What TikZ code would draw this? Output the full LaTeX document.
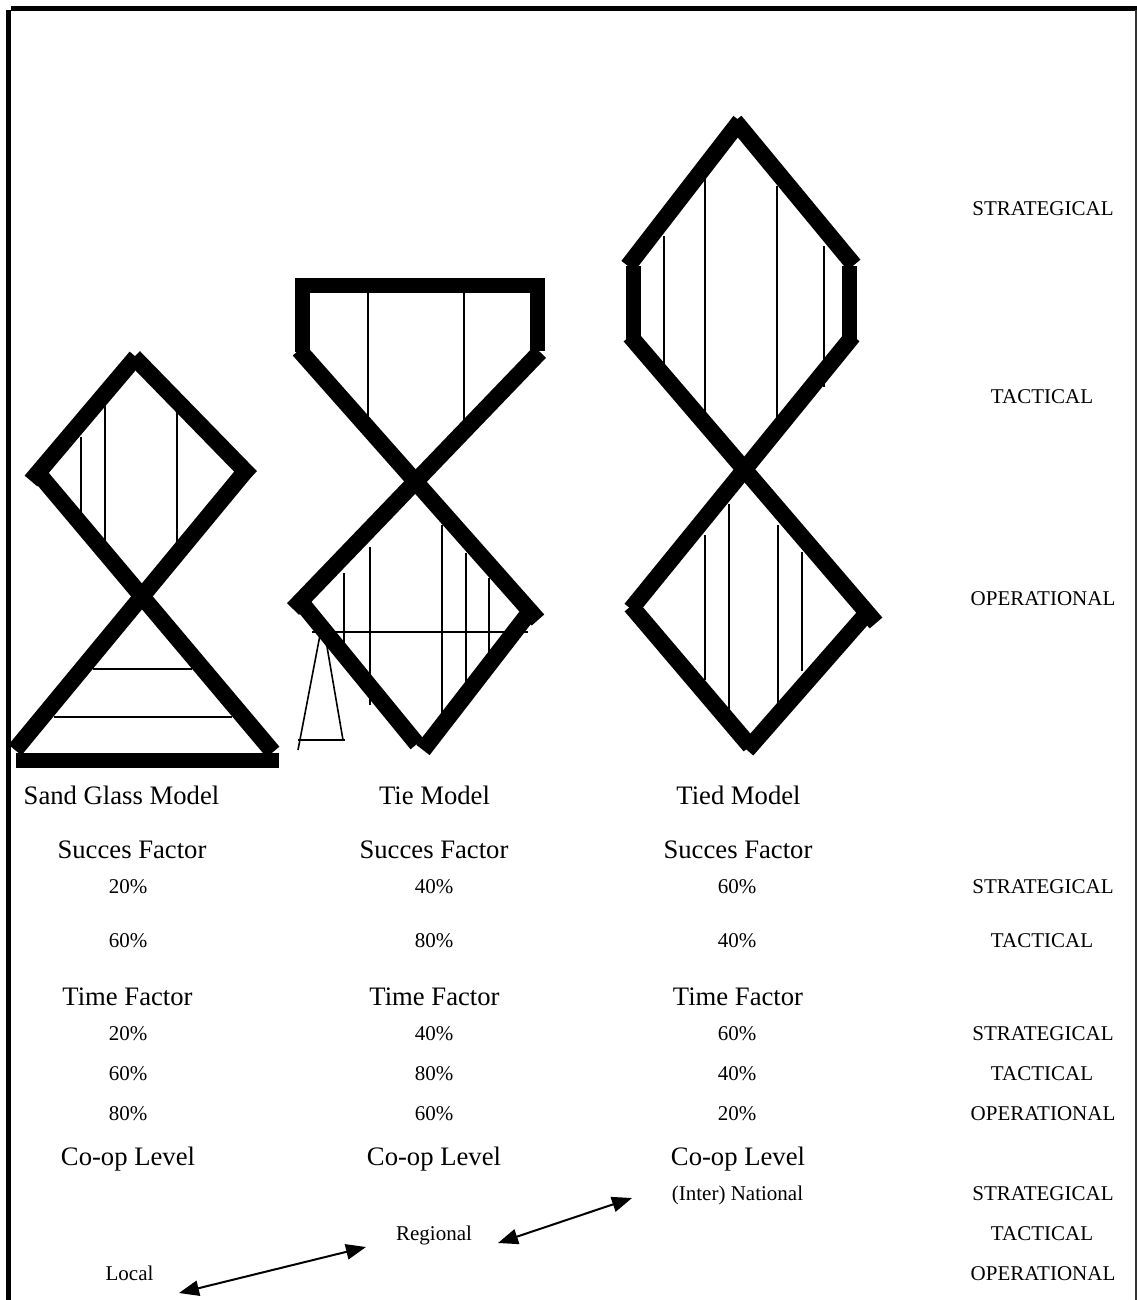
\documentclass[tikz,border=0pt]{standalone}
\usepackage{fontspec}
\setmainfont{Liberation Serif}
\usetikzlibrary{arrows.meta}
\begin{document}
\begin{tikzpicture}[x=0.75pt,y=-0.75pt,
  barline/.style={line width=11.25pt, line cap=butt},
  edgeline/.style={line width=12.5pt, line cap=butt},
  hatch/.style={line width=1.2pt},
  bigtext/.style={font=\fontsize{20pt}{24pt}\selectfont, anchor=base, inner sep=0pt},
  smalltext/.style={font=\fontsize{15.75pt}{19pt}\selectfont, anchor=base, inner sep=0pt},
  link/.style={line width=1.5pt, {Triangle[length=15pt,width=11.5pt]}-{Triangle[length=15pt,width=11.5pt]}}
]
\useasboundingbox (0,0) rectangle (1137,1300);
% frame
\draw[line width=3.75pt] (8.5,10) -- (8.5,1300);
\draw[line width=3.75pt] (11,8) -- (1137,8);
\draw[line width=1.5pt, black!80] (1136,10) -- (1136,1300);

% ---------- Sand Glass Model ----------
\draw[hatch] (81,437) -- (81,512);
\draw[hatch] (105,405) -- (105,542);
\draw[hatch] (177,393) -- (177,542);
\draw[hatch] (93,669) -- (192,669);
\draw[hatch] (54,717) -- (232,717);
\draw[edgeline] (31,481) -- (136,357);
\draw[edgeline] (134,357) -- (251,477);
\draw[edgeline] (248,468) -- (15,750);
\draw[edgeline] (38,473) -- (273,752);
\draw[barline] (16,760) -- (279,760);

% ---------- Tie Model ----------
\draw[hatch] (368,285) -- (368,417);
\draw[hatch] (464,285) -- (464,420);
\draw[hatch] (312,632) -- (528,632);
\draw[hatch] (344,573) -- (344,643);
\draw[hatch] (370,547) -- (370,705);
\draw[hatch] (442,525) -- (442,715);
\draw[hatch] (466,553) -- (466,683);
\draw[hatch] (489,578) -- (489,657);
% stand
\draw[hatch] (320,635) -- (298,750);
\draw[hatch] (325,635) -- (343,740);
\draw[hatch] (298,740) -- (345,740);
\draw[barline] (295,285.5) -- (545,285.5);
\draw[barline] (302.5,278) -- (302.5,352);
\draw[barline] (537,278) -- (537,351);
\draw[edgeline] (299,350) -- (538,620);
\draw[edgeline] (540,352) -- (293,609);
\draw[edgeline] (300,601) -- (417,744);
\draw[edgeline] (532,609) -- (423,750);

% ---------- Tied Model ----------
\draw[hatch] (664,236) -- (664,366);
\draw[hatch] (705,179) -- (705,414);
\draw[hatch] (777,186) -- (777,418);
\draw[hatch] (824,246) -- (824,387);
\draw[hatch] (705,535) -- (705,680);
\draw[hatch] (729,504) -- (729,709);
\draw[hatch] (778,525) -- (778,725);
\draw[hatch] (802,552) -- (802,671);
\draw[edgeline] (628,266) -- (740,121);
\draw[edgeline] (735,121) -- (854,265);
\draw[barline] (633,266) -- (633,339);
\draw[barline] (849.5,266) -- (849.5,339);
\draw[edgeline] (630,336) -- (876,623);
\draw[edgeline] (853,336) -- (631,609);
\draw[edgeline] (631,606) -- (750,746);
\draw[edgeline] (868,612) -- (747,750);

% ---------- level labels at the right ----------
\node[smalltext] (s1) at (1043,215) {STRATEGICAL};
\node[smalltext] (t1) at (1042,403) {TACTICAL};
\node[smalltext] (o1) at (1043,605) {OPERATIONAL};

% ---------- model names ----------
\node[bigtext] (m1) at (121.5,804) {Sand Glass Model};
\node[bigtext] (m2) at (434.5,804) {Tie Model};
\node[bigtext] (m3) at (738.5,804) {Tied Model};

% ---------- success factor ----------
\node[bigtext] (sf1) at (132,858) {Succes Factor};
\node[bigtext] (sf2) at (434,858) {Succes Factor};
\node[bigtext] (sf3) at (738,858) {Succes Factor};
\node[smalltext] (sa1) at (128,893) {20\%};
\node[smalltext] (sa2) at (434,893) {40\%};
\node[smalltext] (sa3) at (737,893) {60\%};
\node[smalltext] (sa4) at (1043,893) {STRATEGICAL};
\node[smalltext] (sb1) at (128,947) {60\%};
\node[smalltext] (sb2) at (434,947) {80\%};
\node[smalltext] (sb3) at (737,947) {40\%};
\node[smalltext] (sb4) at (1042,947) {TACTICAL};

% ---------- time factor ----------
\node[bigtext] (tf1) at (127.5,1005) {Time Factor};
\node[bigtext] (tf2) at (434.5,1005) {Time Factor};
\node[bigtext] (tf3) at (738,1005) {Time Factor};
\node[smalltext] (ta1) at (128,1040) {20\%};
\node[smalltext] (ta2) at (434,1040) {40\%};
\node[smalltext] (ta3) at (737,1040) {60\%};
\node[smalltext] (ta4) at (1043,1040) {STRATEGICAL};
\node[smalltext] (tb1) at (128,1080) {60\%};
\node[smalltext] (tb2) at (434,1080) {80\%};
\node[smalltext] (tb3) at (737,1080) {40\%};
\node[smalltext] (tb4) at (1042,1080) {TACTICAL};
\node[smalltext] (tc1) at (128,1120) {80\%};
\node[smalltext] (tc2) at (434,1120) {60\%};
\node[smalltext] (tc3) at (737,1120) {20\%};
\node[smalltext] (tc4) at (1043,1120) {OPERATIONAL};

% ---------- co-op level ----------
\node[bigtext] (cl1) at (128,1165) {Co-op Level};
\node[bigtext] (cl2) at (434,1165) {Co-op Level};
\node[bigtext] (cl3) at (738,1165) {Co-op Level};
\node[smalltext] (nat) at (737.5,1200) {(Inter) National};
\node[smalltext] (ca4) at (1043,1200) {STRATEGICAL};
\node[smalltext] (reg) at (434,1240) {Regional};
\node[smalltext] (cb4) at (1042,1240) {TACTICAL};
\node[smalltext] (loc) at (129.5,1280) {Local};
\node[smalltext] (cc4) at (1043,1280) {OPERATIONAL};

\coordinate (a1s) at (179,1293);
\coordinate (a1e) at (366,1247);
\coordinate (a2s) at (498,1243);
\coordinate (a2e) at (632,1198);
\draw[link] (a1s) -- (a1e);
\draw[link] (a2s) -- (a2e);
\end{tikzpicture}
\end{document}
